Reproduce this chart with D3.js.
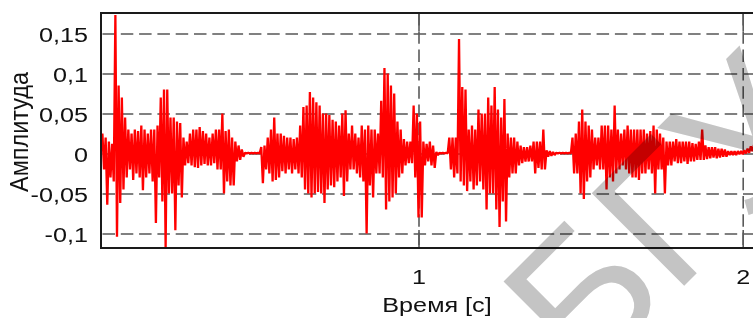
<!DOCTYPE html>
<html>
<head>
<meta charset="utf-8">
<script src="https://cdn.jsdelivr.net/npm/d3@7/dist/d3.min.js"></script>
<style>
  html, body { margin: 0; padding: 0; background: #fff; }
  svg { display: block; font-family: "Liberation Sans", Arial, sans-serif; }
</style>
</head>
<body>
<svg id="chart" width="753" height="318"></svg>
<script>
// sampling of the read-off signal: one max/min pair every 10 ms, starting at 25 ms
const t0 = 0.025;
const dt = 0.01;

// upper envelope of the waveform per sample
const signalHigh = [
  0.025, 0.02, 0.015, 0.012, 0.173, 0.085, 0.07, 0.045, 0.03, 0.025,
  0.03, 0.028, 0.035, 0.03, 0.025, 0.03, 0.03, 0.035, 0.07, 0.08,
  0.08, 0.045, 0.045, 0.04, 0.038, 0.02, 0.015, 0.025, 0.03, 0.03,
  0.033, 0.028, 0.025, 0.02, 0.025, 0.03, 0.03, 0.05, 0.028, 0.03,
  0.02, 0.015, 0.01, 0.005, 0.001, 0.001, 0.001, 0.001, 0.001, 0.008,
  0.01, 0.02, 0.03, 0.045, 0.025, 0.025, 0.022, 0.02, 0.02, 0.018,
  0.02, 0.035, 0.058, 0.06, 0.077, 0.07, 0.064, 0.06, 0.05, 0.05,
  0.048, 0.042, 0.04, 0.035, 0.05, 0.054, 0.025, 0.035, 0.025, 0.02,
  0.035, 0.03, 0.035, 0.03, 0.03, 0.025, 0.066, 0.107, 0.1, 0.085,
  0.075, 0.04, 0.03, 0.018, 0.015, 0.015, 0.06, 0.05, 0.04, 0.015,
  0.012, 0.015, 0.01, 0.002, 0.001, 0.001, 0.001, 0.02, 0.02, 0.02,
  0.143, 0.083, 0.08, 0.03, 0.035, 0.03, 0.055, 0.05, 0.05, 0.07,
  0.06, 0.083, 0.055, 0.045, 0.068, 0.025, 0.02, 0.02, 0.015, 0.01,
  0.008, 0.008, 0.01, 0.015, 0.015, 0.015, 0.03, 0.004, 0.003, 0.002,
  0.001, 0.001, 0.001, 0.001, 0.001, 0.02, 0.025, 0.04, 0.055, 0.04,
  0.035, 0.03, 0.02, 0.02, 0.035, 0.035, 0.035, 0.03, 0.06, 0.03,
  0.025, 0.03, 0.035, 0.03, 0.03, 0.03, 0.03, 0.03, 0.025, 0.028,
  0.035, 0.03, 0.025, 0.02, 0.015, 0.015, 0.015, 0.018, 0.015, 0.015,
  0.015, 0.015, 0.013, 0.012, 0.015, 0.03, 0.01, 0.008, 0.008, 0.008,
  0.006, 0.006, 0.005, 0.003, 0.003, 0.003, 0.003, 0.003, 0.004, 0.006,
  0.009, 0.011
];

// lower envelope of the waveform per sample
const signalLow = [
  -0.02, -0.064, -0.03, -0.035, -0.104, -0.062, -0.045, -0.03, -0.02, -0.033,
  -0.025, -0.03, -0.046, -0.03, -0.025, -0.035, -0.087, -0.03, -0.06, -0.117,
  -0.05, -0.05, -0.096, -0.04, -0.055, -0.015, -0.012, -0.015, -0.017, -0.018,
  -0.015, -0.013, -0.015, -0.015, -0.012, -0.02, -0.02, -0.05, -0.035, -0.04,
  -0.04, -0.01, -0.008, -0.004, 0, 0, 0, 0, 0, -0.037,
  -0.02, -0.025, -0.035, -0.033, -0.03, -0.022, -0.025, -0.02, -0.025, -0.02,
  -0.025, -0.03, -0.045, -0.05, -0.055, -0.05, -0.048, -0.05, -0.062, -0.045,
  -0.04, -0.042, -0.035, -0.03, -0.053, -0.035, -0.02, -0.02, -0.025, -0.03,
  -0.035, -0.1, -0.04, -0.055, -0.025, -0.025, -0.03, -0.07, -0.06, -0.055,
  -0.05, -0.03, -0.025, -0.015, -0.012, -0.012, -0.03, -0.08, -0.08, -0.015,
  -0.01, -0.015, -0.018, -0.002, 0, 0, 0, -0.02, -0.03, -0.025,
  -0.035, -0.04, -0.047, -0.035, -0.045, -0.04, -0.035, -0.045, -0.07, -0.05,
  -0.05, -0.07, -0.092, -0.06, -0.085, -0.03, -0.025, -0.025, -0.015, -0.012,
  -0.01, -0.01, -0.01, -0.025, -0.018, -0.02, -0.02, -0.004, -0.003, -0.002,
  0, 0, 0, 0, 0, -0.025, -0.025, -0.05, -0.057, -0.035,
  -0.03, -0.02, -0.015, -0.02, -0.02, -0.045, -0.03, -0.035, -0.025, -0.02,
  -0.015, -0.02, -0.025, -0.03, -0.03, -0.033, -0.025, -0.025, -0.02, -0.025,
  -0.05, -0.02, -0.02, -0.05, -0.015, -0.015, -0.01, -0.012, -0.012, -0.01,
  -0.013, -0.01, -0.01, -0.008, -0.008, -0.008, -0.007, -0.006, -0.005, -0.006,
  -0.005, -0.004, -0.004, -0.002, -0.002, -0.002, -0.001, -0.001, 0, 0.001,
  0.003, 0.005
];

const yTicks = [-0.1, -0.05, 0, 0.05, 0.1, 0.15];
const yTickLabels = ["-0,1", "-0,05", "0", "0,05", "0,1", "0,15"];
const xTicks = [1, 2];
const xTickLabels = ["1", "2"];

const xTitle = "Время [c]";
const yTitle = "Амплитуда";
const watermark = "БГУ";

const svg = d3.select("#chart");
const plot = { left: 101, top: 13, right: 770, bottom: 248 };

const x = d3.scaleLinear().domain([0, 2]).range([94.3, 742.7]);
const y = d3.scaleLinear().domain([0, 0.15]).range([153.5, 33.5]);

svg.append("defs")
  .append("clipPath")
  .attr("id", "plot-clip")
  .append("rect")
  .attr("x", plot.left + 1)
  .attr("y", plot.top + 1)
  .attr("width", plot.right - plot.left)
  .attr("height", plot.bottom - plot.top - 2);

// horizontal grid
const yGrid = svg.append("g")
  .attr("transform", `translate(${plot.left},0)`)
  .call(d3.axisRight(y).tickValues(yTicks).tickSize(plot.right - plot.left).tickFormat(""));
yGrid.select(".domain").remove();
yGrid.selectAll("line")
  .attr("stroke", "#808080")
  .attr("stroke-width", 2)
  .attr("stroke-dasharray", "12.5,5.8")
  .attr("stroke-dashoffset", -1.5);

// vertical grid
const xGrid = svg.append("g")
  .attr("transform", `translate(0,${plot.top})`)
  .call(d3.axisBottom(x).tickValues(xTicks).tickSize(plot.bottom - plot.top).tickFormat(""));
xGrid.select(".domain").remove();
xGrid.selectAll("line")
  .attr("stroke", "#5a5a5a")
  .attr("stroke-width", 1.6)
  .attr("stroke-dasharray", "12.5,5.8");

// short solid ticks at top and bottom
[plot.top, plot.bottom].forEach((edge, k) => {
  svg.append("g")
    .attr("transform", `translate(0,${edge})`)
    .call((k ? d3.axisTop(x) : d3.axisBottom(x)).tickValues(xTicks).tickSize(18).tickFormat(""))
    .call((g) => g.select(".domain").remove())
    .selectAll("line")
    .attr("stroke", "#5a5a5a")
    .attr("stroke-width", 1.6);
});

// the waveform: max/min pairs in time order
const points = [];
signalHigh.forEach((v, i) => {
  points.push([t0 + i * dt, v]);
  points.push([t0 + i * dt + dt / 2, signalLow[i]]);
});

svg.append("g")
  .attr("clip-path", "url(#plot-clip)")
  .append("path")
  .datum(points)
  .attr("fill", "none")
  .attr("stroke", "#ff0000")
  .attr("stroke-width", 2.3)
  .attr("stroke-linejoin", "bevel")
  .attr("d", d3.line().x((d) => x(d[0])).y((d) => y(d[1])));

// frame
svg.append("rect")
  .attr("x", plot.left)
  .attr("y", plot.top)
  .attr("width", plot.right - plot.left)
  .attr("height", plot.bottom - plot.top)
  .attr("fill", "none")
  .attr("stroke", "#1a1a1a")
  .attr("stroke-width", 2);

// y tick labels
const yAxis = svg.append("g")
  .attr("transform", "translate(88,0)")
  .call(d3.axisLeft(y).tickValues(yTicks).tickSize(0).tickPadding(0)
    .tickFormat((d, i) => yTickLabels[i]));
yAxis.select(".domain").remove();
yAxis.selectAll("text")
  .attr("font-family", "Liberation Sans, Arial, sans-serif")
  .attr("font-size", 21)
  .attr("fill", "#111")
  .attr("dy", "0.36em")
  .attr("transform", "scale(1.2,1)");

// x tick labels
const xAxis = svg.append("g")
  .attr("transform", "translate(0,284)")
  .call(d3.axisBottom(x).tickValues(xTicks).tickSize(0).tickPadding(0)
    .tickFormat((d, i) => xTickLabels[i]));
xAxis.select(".domain").remove();
xAxis.selectAll("text")
  .attr("font-family", "Liberation Sans, Arial, sans-serif")
  .attr("font-size", 21)
  .attr("fill", "#111")
  .attr("y", 0)
  .attr("dy", 0)
  .attr("transform", "scale(1.2,1)");

// axis titles
svg.append("text")
  .attr("transform", "translate(437,312) scale(1.2,1)")
  .attr("text-anchor", "middle")
  .attr("font-size", 21)
  .attr("fill", "#111")
  .text(xTitle);

svg.append("text")
  .attr("transform", "translate(28,132) scale(1.2,1) rotate(-90)")
  .attr("text-anchor", "middle")
  .attr("font-size", 21)
  .attr("textLength", 120)
  .attr("lengthAdjust", "spacingAndGlyphs")
  .attr("fill", "#111")
  .text(yTitle);

// watermark on top
svg.append("text")
  .attr("transform", "translate(585,385) rotate(-45)")
  .attr("font-size", 190)
  .attr("fill", "#c4c4c4")
  .style("mix-blend-mode", "multiply")
  .text(watermark);
</script>
</body>
</html>
